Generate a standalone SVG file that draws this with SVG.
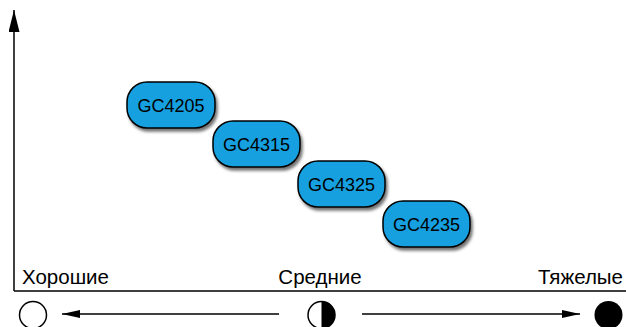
<svg xmlns="http://www.w3.org/2000/svg" width="626" height="327" viewBox="0 0 626 327">
<style>
.node rect{fill:#17a0e0;stroke:#000;stroke-width:1.5;filter:url(#sh)}
.node text{font-family:"Liberation Sans",Arial,sans-serif;font-size:18px;fill:#000;text-anchor:middle}
.lbl{font-family:"Liberation Sans",Arial,sans-serif;font-size:20.5px;fill:#000}
.ln{stroke:#000;stroke-width:1.5;fill:none}
</style>
<defs>
<filter id="sh" x="-20%" y="-30%" width="150%" height="170%">
<feDropShadow dx="2" dy="3" stdDeviation="1.5" flood-color="#000" flood-opacity="0.55"/>
</filter>
<marker id="ah" viewBox="0 0 18 8" refX="18" refY="4" markerWidth="18" markerHeight="8" markerUnits="userSpaceOnUse" orient="auto">
<path d="M0,0 L18,4 L0,8 z" fill="#000"/>
</marker>
<marker id="ahy" viewBox="0 0 22 11" refX="22" refY="5.5" markerWidth="22" markerHeight="11" markerUnits="userSpaceOnUse" orient="auto">
<path d="M0,0 L22,5.5 L0,11 z" fill="#000"/>
</marker>
</defs>
<g id="connectors">
<line class="ln" x1="14" y1="291" x2="14" y2="10" marker-end="url(#ahy)"/>
<line class="ln" x1="14" y1="291" x2="626" y2="291"/>
<line class="ln" x1="279" y1="314" x2="62" y2="314" marker-end="url(#ah)"/>
<line class="ln" x1="362" y1="314" x2="580" y2="314" marker-end="url(#ah)"/>
</g>
<g id="n1" class="node"><rect x="127" y="82" width="88" height="46" rx="20"/><text x="171" y="112">GC4205</text></g>
<g id="n2" class="node"><rect x="213" y="121" width="87" height="46" rx="20"/><text x="256.5" y="151">GC4315</text></g>
<g id="n3" class="node"><rect x="298" y="161" width="87" height="46" rx="20"/><text x="341.5" y="191">GC4325</text></g>
<g id="n4" class="node"><rect x="383" y="201" width="87" height="46" rx="20"/><text x="426.5" y="231">GC4235</text></g>
<g id="labels">
<text class="lbl" x="22" y="284">Хорошие</text>
<text class="lbl" x="320" y="284" text-anchor="middle">Средние</text>
<text class="lbl" x="623" y="284" text-anchor="end">Тяжелые</text>
</g>
<g id="circles">
<circle cx="33" cy="315" r="13.5" fill="#fff" stroke="#000" stroke-width="1.5"/>
<circle cx="321.5" cy="315" r="13.5" fill="#fff" stroke="#000" stroke-width="1.5"/>
<path d="M321.5,301.5 A13.5,13.5 0 0 1 321.5,328.5 Z" fill="#000"/>
<circle cx="608.5" cy="315" r="14" fill="#000"/>
</g>
</svg>
